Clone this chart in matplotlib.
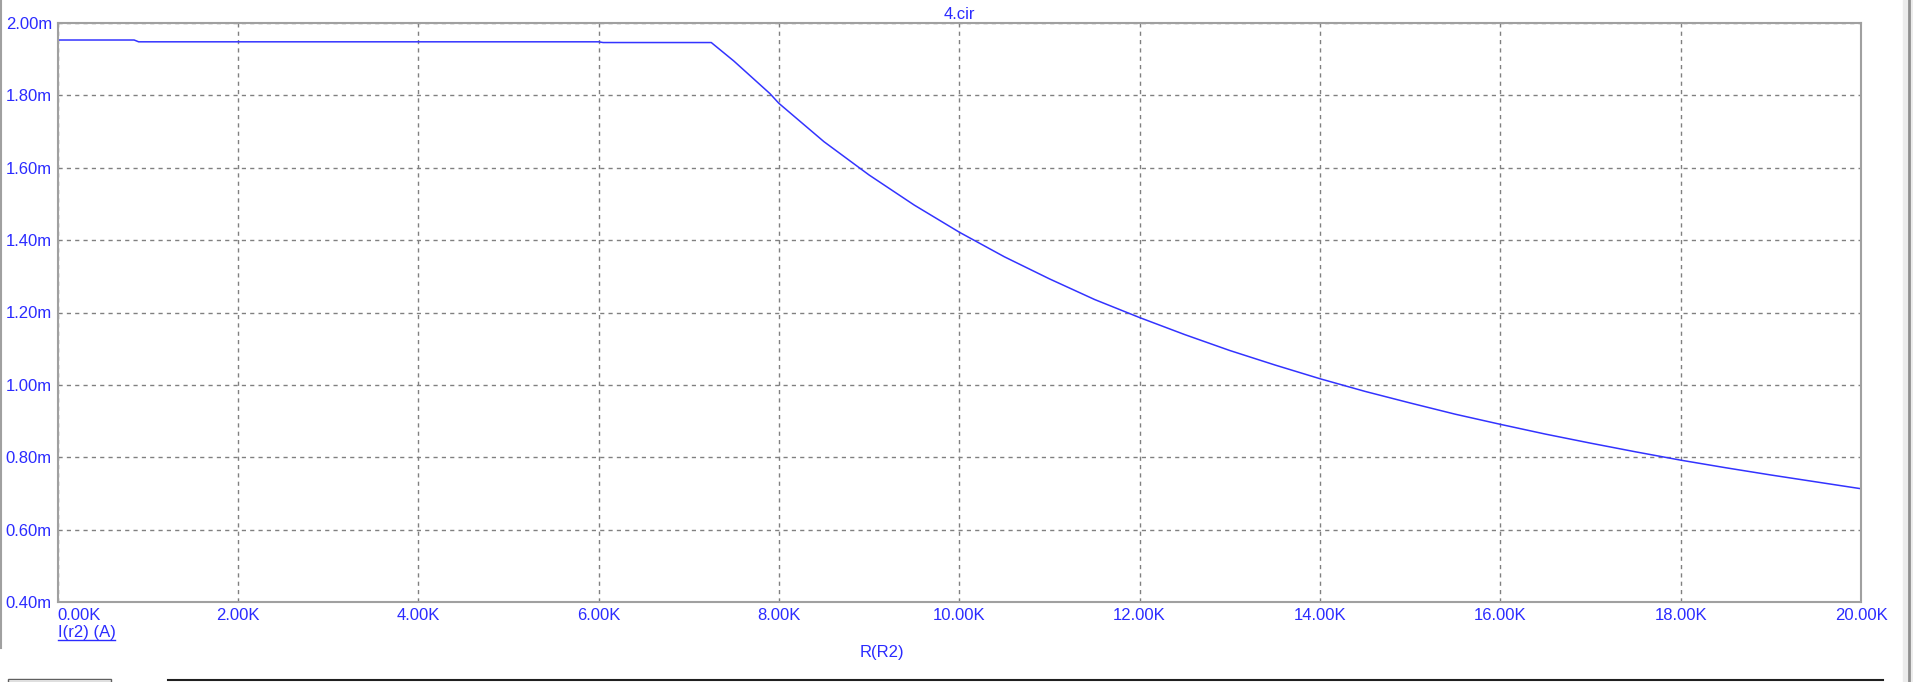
import numpy as np
import matplotlib.pyplot as plt
from matplotlib.lines import Line2D
from matplotlib.patches import Rectangle

# R(R2) in kOhm, I(r2) in mA
r_k = [0.0, 0.85, 0.9, 6.0, 6.05, 7.25, 7.5, 7.9, 8.0, 8.5, 9.0, 9.5, 10.0,
       10.5, 11.0, 11.5, 12.0, 12.5, 13.0, 13.5, 14.0, 14.5, 15.0, 15.5, 16.0,
       16.5, 17.0, 17.5, 18.0, 18.5, 19.0, 19.5, 20.0]
i_ma = [1.953, 1.953, 1.948, 1.948, 1.946, 1.946, 1.895, 1.805, 1.778, 1.672,
        1.580, 1.497, 1.422, 1.354, 1.293, 1.236, 1.186, 1.139, 1.095, 1.055, 1.017,
        0.982, 0.950, 0.919, 0.891, 0.864, 0.839, 0.815, 0.792, 0.771, 0.751, 0.732, 0.713]

xticks = [0, 2, 4, 6, 8, 10, 12, 14, 16, 18, 20]
xlabels = ['0.00K', '2.00K', '4.00K', '6.00K', '8.00K', '10.00K', '12.00K',
           '14.00K', '16.00K', '18.00K', '20.00K']
yticks = [0.4, 0.6, 0.8, 1.0, 1.2, 1.4, 1.6, 1.8, 2.0]
ylabels = ['0.40m', '0.60m', '0.80m', '1.00m', '1.20m', '1.40m', '1.60m', '1.80m', '2.00m']

blue = '#2b2bff'
grey = '#a0a0a0'
plt.rcParams['font.family'] = ['Liberation Sans', 'DejaVu Sans']

W, H = 1913, 682
fig = plt.figure(figsize=(W / 100, H / 100), dpi=100)
ax = fig.add_axes([57.5 / W, 1 - 602 / H, (1861 - 57.5) / W, (602 - 23) / H])

ax.plot(r_k, i_ma, color='#3333ff', lw=1.1)
ax.set_xlim(0, 20)
ax.set_ylim(0.4, 2.0)
ax.set_xticks(xticks)
ax.set_xticklabels(xlabels)
ax.set_yticks(yticks)
ax.set_yticklabels(ylabels)
ax.tick_params(length=0, labelsize=12, labelcolor=blue, pad=4)
ax.get_xticklabels()[0].set_horizontalalignment('left')
ax.grid(True, color='#808080', ls=(0, (3, 3)), lw=1)
for s in ax.spines.values():
    s.set_color(grey)
    s.set_linewidth(1.5)

ax.set_title('4.cir', color=blue, fontsize=12, pad=3)
fig.text(882 / W, 1 - 653 / H, 'R(R2)', color=blue, fontsize=12, ha='center', va='center')
t = fig.text(57.5 / W, 1 - 633 / H, 'I(r2) (A)', color=blue, fontsize=12, ha='left', va='center')
fig.canvas.draw()
bb = t.get_window_extent()
fig.add_artist(Line2D([bb.x0 / W, bb.x1 / W], [(bb.y0 + 1) / H] * 2, color=blue, lw=1))

# window chrome bits around the plot
fig.add_artist(Line2D([1 / W] * 2, [0.05, 1], color='#a0a0a0', lw=1.5))
fig.add_artist(Rectangle((1903 / W, 0), 10 / W, 1, color='#ececec'))
fig.add_artist(Line2D([1909 / W] * 2, [0, 1], color='#909090', lw=2))
fig.add_artist(Line2D([168 / W, 1883 / W], [2 / H] * 2, color='#202020', lw=1.5))
fig.add_artist(Rectangle((8 / W, 0), 103 / W, 3 / H, fill=False, ec='#606060', lw=1))

fig.savefig('out.png', dpi=100)
